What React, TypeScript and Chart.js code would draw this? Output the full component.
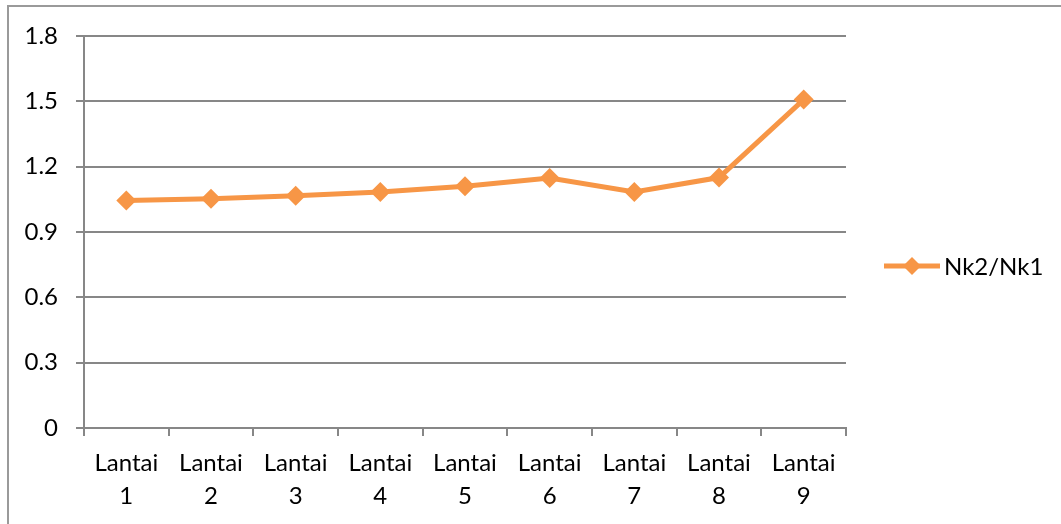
import React, { useEffect, useRef } from "react";
import { Chart, registerables } from "chart.js";

Chart.register(...registerables);

const categories: string[][] = [
  ["Lantai", "1"], ["Lantai", "2"], ["Lantai", "3"], ["Lantai", "4"], ["Lantai", "5"],
  ["Lantai", "6"], ["Lantai", "7"], ["Lantai", "8"], ["Lantai", "9"],
];
const seriesName = "Nk2/Nk1";
const nkRatio: number[] = [1.045, 1.053, 1.067, 1.084, 1.11, 1.148, 1.084, 1.15, 1.508];
const yMin = 0;
const yMax = 1.8;
const yStep = 0.3;

const ORANGE = "#F79646";
const GRID = "#878787";
const FONT = "Lato";
const FONT_SIZE = 24;

const framePlugin = {
  id: "frame",
  beforeDraw(chart: any) {
    const ctx = chart.ctx;
    ctx.save();
    ctx.fillStyle = "#ffffff";
    ctx.fillRect(0, 0, chart.width, chart.height);
    ctx.strokeStyle = "#9a9a9a";
    ctx.lineWidth = 2;
    ctx.strokeRect(8, 6, chart.width + 20, chart.height + 20);
    ctx.restore();
  },
};

const legendPlugin = {
  id: "customLegend",
  afterDraw(chart: any) {
    const ctx = chart.ctx;
    const area = chart.chartArea;
    const ds = chart.data.datasets[0];
    const x0 = area.right + 38;
    const x1 = area.right + 94;
    const y = 266;
    ctx.save();
    ctx.strokeStyle = ds.borderColor;
    ctx.lineWidth = 5;
    ctx.beginPath();
    ctx.moveTo(x0, y);
    ctx.lineTo(x1, y);
    ctx.stroke();
    const cx = (x0 + x1) / 2;
    const r = 9;
    ctx.fillStyle = ds.backgroundColor;
    ctx.beginPath();
    ctx.moveTo(cx, y - r);
    ctx.lineTo(cx + r, y);
    ctx.lineTo(cx, y + r);
    ctx.lineTo(cx - r, y);
    ctx.closePath();
    ctx.fill();
    ctx.fillStyle = "#000000";
    ctx.font = `${FONT_SIZE}px ${FONT}`;
    ctx.textBaseline = "middle";
    ctx.textAlign = "left";
    ctx.fillText(ds.label, x1 + 4, y + 1);
    ctx.restore();
  },
};

export default function App() {
  const ref = useRef<HTMLCanvasElement | null>(null);
  useEffect(() => {
    if (!ref.current) return;
    const chart = new Chart(ref.current, {
      type: "line",
      data: {
        labels: categories,
        datasets: [
          {
            label: seriesName,
            data: nkRatio,
            borderColor: ORANGE,
            backgroundColor: ORANGE,
            borderWidth: 5,
            pointStyle: "rectRot",
            pointRadius: 10,
            pointHoverRadius: 10,
            pointBorderWidth: 0,
            tension: 0,
          },
        ],
      },
      options: {
        animation: false,
        responsive: false,
        maintainAspectRatio: false,
        layout: { padding: { left: 0, top: 36, right: 215, bottom: 0 } },
        plugins: { legend: { display: false }, tooltip: { enabled: false } },
        scales: {
          x: {
            offset: true,
            afterFit: (s: any) => { s.height = 96; },
            grid: {
              offset: true,
              drawOnChartArea: false,
              drawTicks: true,
              tickLength: 8,
              color: GRID,
              lineWidth: 2,
            },
            border: { display: true, color: GRID, width: 2 },
            ticks: {
              color: "#000000",
              padding: 10,
              maxRotation: 0,
              autoSkip: false,
              font: { family: FONT, size: FONT_SIZE, lineHeight: 1.4 },
            },
          },
          y: {
            min: yMin,
            max: yMax,
            afterFit: (s: any) => { s.width = 84; },
            grid: { color: GRID, lineWidth: 2, tickLength: 8, drawTicks: true },
            border: { display: true, color: GRID, width: 2 },
            ticks: {
              stepSize: yStep,
              color: "#000000",
              padding: 18,
              font: { family: FONT, size: FONT_SIZE },
              callback: (v: any) => String(Number(Number(v).toFixed(1))),
            },
          },
        },
      },
      plugins: [framePlugin, legendPlugin],
    });
    return () => chart.destroy();
  }, []);
  return (
    <div style={{ position: "absolute", left: 0, top: 0, width: 1061, height: 524 }}>
      <canvas ref={ref} width={1061} height={524} style={{ display: "block" }} />
    </div>
  );
}
